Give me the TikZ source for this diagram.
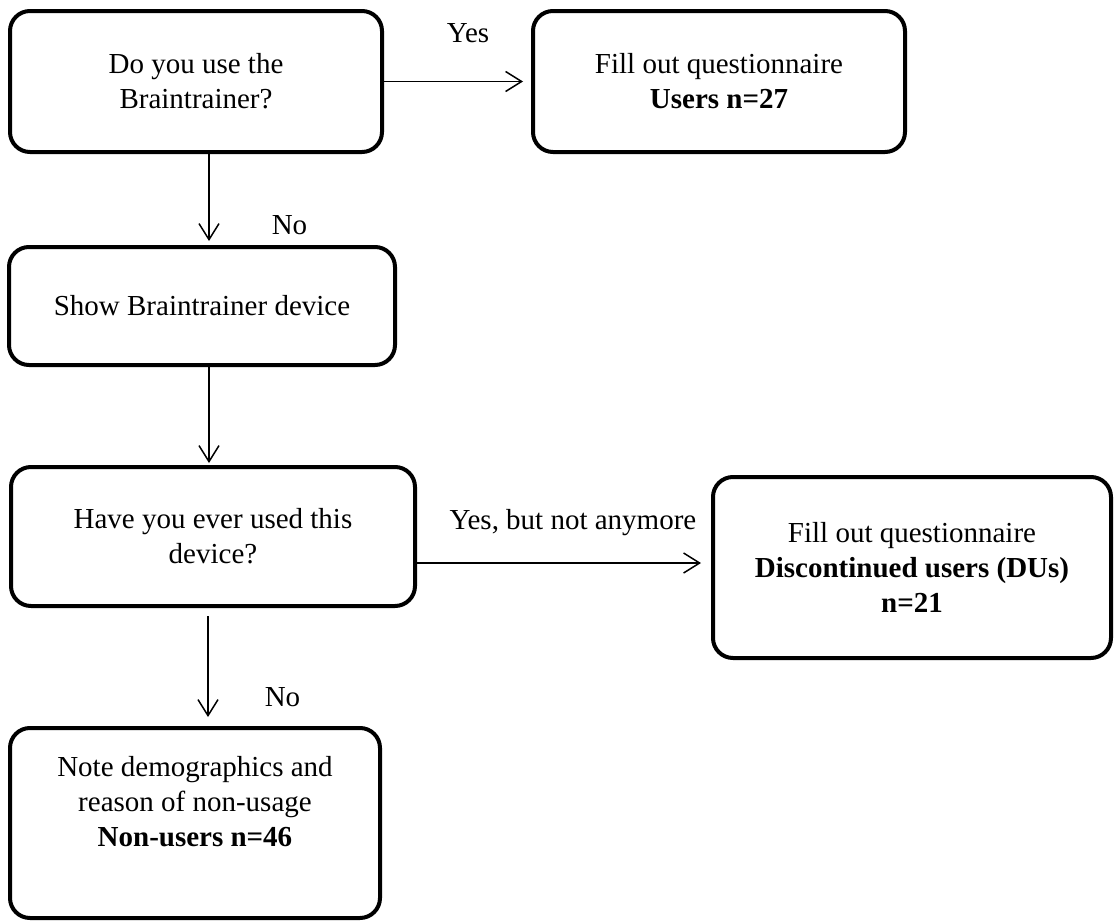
\documentclass[tikz,border=0pt]{standalone}
\usepackage{fontspec}
\setmainfont{Liberation Serif}
\usetikzlibrary{arrows.meta, positioning, calc}
\tikzset{%
	box/.style={draw, rectangle, rounded corners=10pt, line width=2pt,%
		align=center, outer sep=0pt, inner sep=2pt},
	flow/.style={-{Straight Barb[length=8pt, width=10pt, line width=0.75pt]}, line width=0.75pt},
	lbl/.style={inner sep=0pt}
}

\begin{document}
\begin{tikzpicture}[x=0.5pt, y=-0.5pt, font=\fontsize{14.5pt}{17.5pt}\selectfont]
	\useasboundingbox (0,0) rectangle (1115,921);
	\node[box, minimum width=186pt, minimum height=70.5pt] (q1) at (196,81.5) {Do you use the\\Braintrainer?};
	\node[box, minimum width=186pt, minimum height=70.5pt, right=75.5pt of q1] (users) {Fill out questionnaire\\\textbf{Users n=27}};
	\node[box, minimum width=193pt, minimum height=59pt, below=47.5pt of q1, xshift=3pt] (show) {Show Braintrainer device};
	\node[box, minimum width=202pt, minimum height=69.5pt, below=51pt of show, xshift=5.5pt] (ever) {Have you ever used this\\device?};
	\node[box, minimum width=199pt, minimum height=90.5pt, right=149pt of ever, yshift=-15.5pt] (disc) {Fill out questionnaire\\\textbf{Discontinued users (DUs)}\\\textbf{n=21}};
	\node[box, minimum width=185pt, minimum height=95pt, below=61pt of ever, xshift=-9pt] (nonusr) {Note demographics and\\reason of non-usage\\\textbf{Non-users n=46}\\[4pt]~};

	\draw[flow, shorten >=5pt] (q1.east) to node[lbl, pos=0.57, above=19pt]{Yes} (users.west);
	\draw[flow, shorten >=3pt] ([xshift=6.5pt]q1.south) to node[lbl, pos=0.77, right=31pt]{No} ([xshift=6.5pt]q1.south |- show.north);
	\draw[flow, shorten >=2pt] ([xshift=3.5pt]show.south) to ([xshift=3.5pt]show.south |- ever.north);
	\draw[flow, shorten >=6pt] ([yshift=-13.25pt]ever.east) to node[lbl, pos=0.53, above=13pt]{Yes, but not anymore} ([yshift=-13.25pt]ever.east -| disc.west);
	\draw[flow, shorten <=5pt, shorten >=5.5pt] ([xshift=-2.5pt]ever.south) to node[lbl, pos=0.75, right=28pt]{No} ([xshift=-2.5pt]ever.south |- nonusr.north);
\end{tikzpicture}
\end{document}
